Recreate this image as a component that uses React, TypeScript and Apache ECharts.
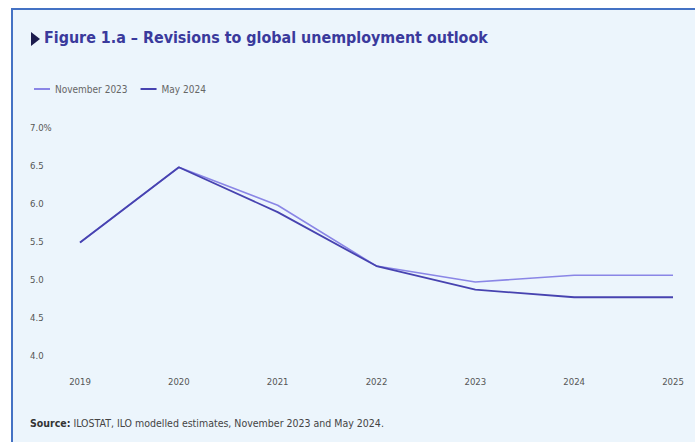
import React, { useEffect, useRef } from "react";
import * as echarts from "echarts";

const years = ["2019", "2020", "2021", "2022", "2023", "2024", "2025"];
const nov2023 = [5.48, 6.47, 5.97, 5.17, 4.96, 5.05, 5.05];
const may2024 = [5.48, 6.47, 5.88, 5.17, 4.86, 4.76, 4.76];
const seriesNames = ["November 2023", "May 2024"];
const titleText = "Figure 1.a – Revisions to global unemployment outlook";
const sourceLabel = "Source:";
const sourceText = " ILOSTAT, ILO modelled estimates, November 2023 and May 2024.";

const FONT = "'DejaVu Sans Condensed', 'Liberation Sans Narrow', sans-serif";

export default function App() {
  const ref = useRef<HTMLDivElement>(null);
  useEffect(() => {
    if (!ref.current) return;
    const chart = echarts.init(ref.current, undefined, { renderer: "svg" });
    chart.setOption({
      animation: false,
      backgroundColor: "#ffffff",
      textStyle: { fontFamily: FONT },
      graphic: [
        { type: "rect", z: -10, shape: { x: 11, y: 8, width: 700, height: 450 }, style: { fill: "#ECF5FC" } },
        { type: "line", z: -5, shape: { x1: 11, y1: 9, x2: 695, y2: 9 }, style: { stroke: "#4472C4", lineWidth: 2 } },
        { type: "line", z: -5, shape: { x1: 12, y1: 8, x2: 12, y2: 442 }, style: { stroke: "#4472C4", lineWidth: 2 } },
        { type: "polygon", shape: { points: [[31, 32], [31, 46], [40, 39]] }, style: { fill: "#1c1c4e" } },
        {
          type: "text", left: 44, top: 29,
          style: { text: titleText, fill: "#3a3a9c", font: `bold 15.9px ${FONT}` },
        },
        {
          type: "text", left: 30, top: 417,
          style: {
            text: `{b|${sourceLabel}}{n|${sourceText}}`,
            rich: {
              b: { fontWeight: "bold", fontSize: 10.5, fill: "#333", fontFamily: FONT },
              n: { fontSize: 10.5, fill: "#444", fontFamily: FONT },
            },
          },
        },
      ],
      legend: {
        left: 29, top: 79,
        itemWidth: 16, itemHeight: 2, itemGap: 13,
        icon: "rect",
        textStyle: { fontSize: 10, color: "#666", fontFamily: FONT },
        data: seriesNames,
      },
      grid: { left: 80, right: 22, top: 127, bottom: 87 },
      xAxis: {
        type: "category",
        data: years,
        boundaryGap: false,
        axisLine: { show: false },
        axisTick: { show: false },
        axisLabel: { color: "#555", fontSize: 9.5, margin: 21, fontFamily: FONT },
      },
      yAxis: {
        type: "value",
        min: 4, max: 7, interval: 0.5,
        splitLine: { show: false },
        axisLine: { show: false },
        axisTick: { show: false },
        axisLabel: {
          color: "#555", fontSize: 9.5, align: "left", margin: 50, fontFamily: FONT,
          formatter: (v: number) => (v === 7 ? "7.0%" : v.toFixed(1)),
        },
      },
      series: [
        {
          name: seriesNames[0], type: "line", data: nov2023, symbol: "none",
          itemStyle: { color: "#8a86e6" }, lineStyle: { color: "#8a86e6", width: 1.6 },
        },
        {
          name: seriesNames[1], type: "line", data: may2024, symbol: "none",
          itemStyle: { color: "#4743b0" }, lineStyle: { color: "#4743b0", width: 1.8 },
        },
      ],
    });
    return () => chart.dispose();
  }, []);
  return (
    <div style={{ position: "fixed", left: 0, top: 0, width: 695, height: 442, background: "#fff" }}>
      <div ref={ref} style={{ width: 695, height: 442 }} />
    </div>
  );
}
